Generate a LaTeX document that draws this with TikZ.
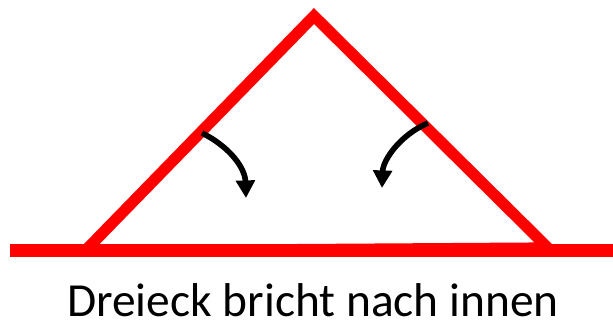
\documentclass[tikz,border=0pt]{standalone}
\usepackage{fontspec}
\setmainfont{Carlito}
\usetikzlibrary{arrows.meta}
\tikzset{
  roof/.style={draw=red, line width=6.4pt, line join=miter},
  ground/.style={draw=red, line width=7.4pt},
  push/.style={draw=black, line width=3.2pt, -{Triangle[length=10pt, width=10.5pt]}},
}
\begin{document}
\begin{tikzpicture}[x=0.02cm, y=-0.02cm]
\useasboundingbox (0,0) rectangle (613,324);
\coordinate (top) at (314,16);
\coordinate (bl) at (85,251);
\coordinate (br) at (548,248);
\coordinate (gl) at (10,251);
\coordinate (gr) at (613,251);
\coordinate (l1) at (202,133);
\coordinate (l2) at (246,198);
\coordinate (r1) at (428,123);
\coordinate (r2) at (382,188);
\draw[roof] (bl) -- (top) -- (br) -- cycle;
\draw[ground] (gl) -- (gr);
\draw[push] (l1) .. controls (230,147) and (245,168) .. (l2);
\draw[push] (r1) .. controls (400,135) and (383,160) .. (r2);
\node[font=\fontsize{27}{32}\selectfont, anchor=base, inner sep=1pt] (label) at (313,317) {Dreieck bricht nach innen};
\end{tikzpicture}
\end{document}
